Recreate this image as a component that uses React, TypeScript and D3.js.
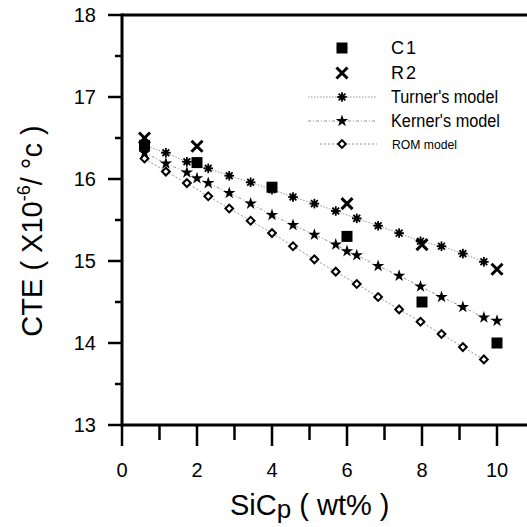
import React from "react";
import * as d3 from "d3";

const modelX = [0.6, 1.17, 1.73, 2.3, 2.86, 3.43, 4.0, 4.56, 5.13, 5.7, 6.26, 6.83, 7.39, 7.96, 8.52, 9.09, 9.65];
const turnerY = [16.41, 16.32, 16.21, 16.13, 16.04, 15.96, 15.87, 15.78, 15.7, 15.61, 15.52, 15.43, 15.34, 15.24, 15.18, 15.09, 14.99];
const romY = [16.25, 16.09, 15.95, 15.79, 15.64, 15.49, 15.34, 15.18, 15.02, 14.87, 14.72, 14.56, 14.41, 14.26, 14.11, 13.95, 13.8];
const kernerX = [0.6, 1.17, 1.73, 2.0, 2.3, 2.86, 3.43, 4.0, 4.56, 5.13, 5.7, 6.0, 6.26, 6.83, 7.39, 7.96, 8.52, 9.09, 9.65, 10.0];
const kernerY = [16.32, 16.19, 16.08, 16.01, 15.95, 15.83, 15.7, 15.56, 15.44, 15.32, 15.2, 15.12, 15.07, 14.94, 14.82, 14.69, 14.56, 14.44, 14.31, 14.27];
const c1X = [0.6, 2, 4, 6, 8, 10];
const c1Y = [16.41, 16.2, 15.9, 15.3, 14.5, 14.0];
const r2X = [0.6, 2, 6, 8, 10];
const r2Y = [16.5, 16.4, 15.7, 15.2, 14.9];
const xMajor = [0, 2, 4, 6, 8, 10];
const xMinor = [1, 3, 5, 7, 9];
const yMajor = [13, 14, 15, 16, 17, 18];
const yMinor = [13.5, 14.5, 15.5, 16.5, 17.5];

const FONT = "'Liberation Sans', Arial, sans-serif";

const x = d3.scaleLinear().domain([0, 11]).range([122, 534.5]);
const y = d3.scaleLinear().domain([13, 18]).range([425, 15]);

const line = d3.line<[number, number]>().x((d) => x(d[0])).y((d) => y(d[1]));

const zip = (a: number[], b: number[]): [number, number][] => a.map((v, i) => [v, b[i]]);

const squarePath = d3.symbol(d3.symbolSquare, 121)() as string;
const starPath = d3.symbol(d3.symbolStar, 48)() as string;
const diamondPath = d3.symbol(d3.symbolSquare, 30)() as string;

function Asterisk({ cx, cy }: { cx: number; cy: number }) {
  const r = 4.8;
  const angs = [0, 45, 90, 135];
  return (
    <g transform={`translate(${cx},${cy})`}>
      {angs.map((a) => {
        const rad = (a * Math.PI) / 180;
        return (
          <line key={a} x1={-r * Math.cos(rad)} y1={-r * Math.sin(rad)} x2={r * Math.cos(rad)} y2={r * Math.sin(rad)} stroke="#000" strokeWidth={1.8} />
        );
      })}
      <circle r={2.6} fill="#000" />
    </g>
  );
}

function Cross({ cx, cy }: { cx: number; cy: number }) {
  const r = 5.5;
  return (
    <g transform={`translate(${cx},${cy})`} stroke="#000" strokeWidth={3}>
      <line x1={-r} y1={-r} x2={r} y2={r} />
      <line x1={-r} y1={r} x2={r} y2={-r} />
    </g>
  );
}

export default function App() {
  const turner = zip(modelX, turnerY);
  const rom = zip(modelX, romY);
  const kerner = zip(kernerX, kernerY);
  const c1 = zip(c1X, c1Y);
  const r2 = zip(r2X, r2Y);
  const legX = 342;
  const legText = 391;
  return (
    <svg width={527} height={527} style={{ position: "absolute", left: 0, top: 0, background: "#fff" }} fontFamily={FONT}>
      {/* model lines */}
      <path d={line(turner) as string} fill="none" stroke="#888" strokeWidth={0.9} strokeDasharray="1.5,1.5" />
      <path d={line(kerner) as string} fill="none" stroke="#888" strokeWidth={0.9} strokeDasharray="3,2,1,2" />
      <path d={line(rom) as string} fill="none" stroke="#888" strokeWidth={0.9} strokeDasharray="2,2" />

      {rom.map((d, i) => (
        <path key={"r" + i} d={diamondPath} transform={`translate(${x(d[0])},${y(d[1])}) rotate(45)`} fill="#fff" stroke="#000" strokeWidth={2} />
      ))}
      {kerner.map((d, i) => (
        <path key={"k" + i} d={starPath} transform={`translate(${x(d[0])},${y(d[1])})`} fill="#000" />
      ))}
      {turner.map((d, i) => (
        <Asterisk key={"t" + i} cx={x(d[0])} cy={y(d[1])} />
      ))}
      {c1.map((d, i) => (
        <path key={"c" + i} d={squarePath} transform={`translate(${x(d[0])},${y(d[1])})`} fill="#000" />
      ))}
      {r2.map((d, i) => (
        <Cross key={"x" + i} cx={x(d[0])} cy={y(d[1])} />
      ))}

      {/* axes */}
      <line x1={122} y1={y(18)} x2={527} y2={y(18)} stroke="#000" strokeWidth={3} />
      <line x1={122} y1={y(13)} x2={527} y2={y(13)} stroke="#000" strokeWidth={3} />
      <line x1={122} y1={y(18) - 1.5} x2={122} y2={y(13) + 1.5} stroke="#000" strokeWidth={3} />
      {yMajor.map((v) => (
        <g key={"ym" + v}>
          <line x1={108} x2={122} y1={y(v)} y2={y(v)} stroke="#000" strokeWidth={2.5} />
          <text x={96} y={y(v)} dy="0.36em" textAnchor="end" fontSize={20}>{v}</text>
        </g>
      ))}
      {yMinor.map((v) => (
        <line key={"yn" + v} x1={115} x2={122} y1={y(v)} y2={y(v)} stroke="#000" strokeWidth={2.5} />
      ))}
      {xMajor.map((v) => (
        <g key={"xm" + v}>
          <line x1={x(v)} x2={x(v)} y1={425} y2={446} stroke="#000" strokeWidth={2.5} />
          <text x={x(v)} y={477} textAnchor="middle" fontSize={20}>{v}</text>
        </g>
      ))}
      {xMinor.map((v) => (
        <line key={"xn" + v} x1={x(v)} x2={x(v)} y1={425} y2={440} stroke="#000" strokeWidth={2.5} />
      ))}

      {/* axis titles */}
      <text x={230} y={515} fontSize={29}>
        SiC<tspan fontSize={26} dy={3}>p</tspan>
        <tspan dy={-3}> ( wt% )</tspan>
      </text>
      <text transform="translate(42,231) rotate(-90)" textAnchor="middle" fontSize={29}>
        CTE ( X10<tspan fontSize={18} dy={-12}>-6</tspan>
        <tspan dy={12}>/ °c )</tspan>
      </text>

      {/* legend */}
      <path d={squarePath} transform={`translate(${legX},48)`} fill="#000" />
      <text x={legText} y={48} dy="0.36em" fontSize={18} letterSpacing={2}>C1</text>
      <Cross cx={legX} cy={73} />
      <text x={legText} y={73} dy="0.36em" fontSize={18} letterSpacing={2}>R2</text>
      <line x1={308} x2={377} y1={97} y2={97} stroke="#888" strokeWidth={0.9} strokeDasharray="1.5,1.5" />
      <Asterisk cx={legX} cy={97} />
      <text x={legText} y={97} dy="0.36em" fontSize={18} textLength={107} lengthAdjust="spacingAndGlyphs">Turner's model</text>
      <line x1={308} x2={377} y1={121} y2={121} stroke="#888" strokeWidth={0.9} strokeDasharray="3,2,1,2" />
      <path d={starPath} transform={`translate(${legX},121)`} fill="#000" />
      <text x={legText} y={121} dy="0.36em" fontSize={18} textLength={109} lengthAdjust="spacingAndGlyphs">Kerner's model</text>
      <line x1={320} x2={377} y1={144} y2={144} stroke="#888" strokeWidth={0.9} strokeDasharray="2,2" />
      <path d={diamondPath} transform={`translate(${legX},144) rotate(45)`} fill="#fff" stroke="#000" strokeWidth={2} />
      <text x={legText + 1} y={144} dy="0.36em" fontSize={13} textLength={65} lengthAdjust="spacingAndGlyphs">ROM model</text>
    </svg>
  );
}
